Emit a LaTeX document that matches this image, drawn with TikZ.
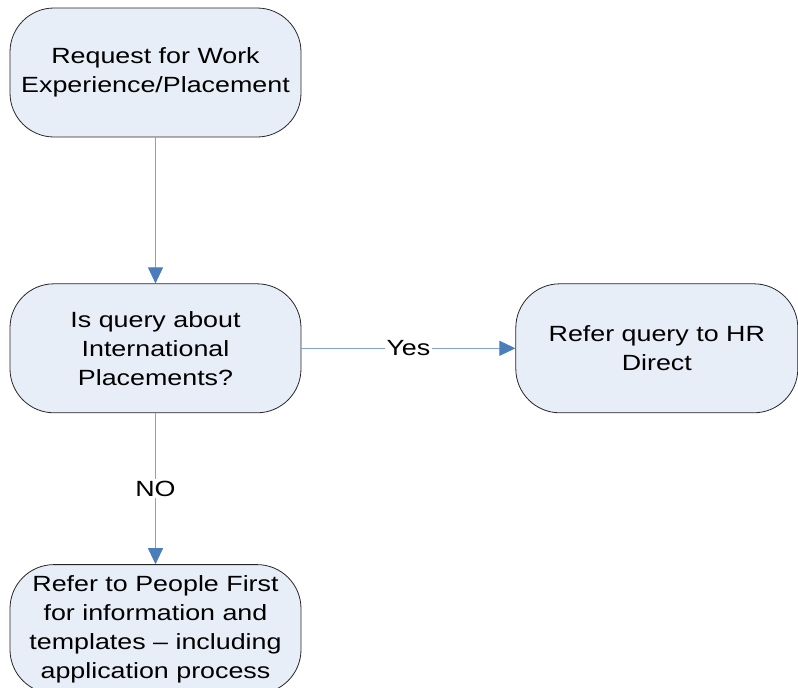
\documentclass[tikz,border=0pt]{standalone}
\usepackage{xcolor}
\usepackage{fontspec}
\setmainfont{Liberation Sans}[FakeStretch=1.22]
\usepackage{tikz}
\usetikzlibrary{arrows.meta, positioning}

\definecolor{boxfill}{HTML}{E8EEF7}
\definecolor{flowblue}{HTML}{4A7EBB}
\definecolor{flowline}{HTML}{7FA3D8}

\begin{document}
\begin{tikzpicture}[x=1pt, y=1pt,
			flowbox/.style={draw=black!85, fill=boxfill, line width=0.8pt,
				rounded corners=44pt, minimum width=291pt, minimum height=129pt,
				align=center, inner sep=0pt,
				font=\fontsize{22}{29}\selectfont},
			flowarrow/.style={draw=flowline, line width=1pt,
				-{Triangle[length=16pt, width=15pt, fill=flowblue, color=flowblue]}},
			flowlabel/.style={fill=white, inner sep=2pt,
				font=\fontsize{22}{29}\selectfont}]
			
			\useasboundingbox (0,0) rectangle (798,-688);
			
			\node[flowbox] (request) at (155.5,-72.5) {Request for Work\\Experience/Placement};
			\node[flowbox, below=146pt of request] (query) {Is query about\\International\\Placements?};
			\node[flowbox, right=214pt of query, minimum width=282pt] (hrdirect) {Refer query to HR\\Direct};
			\node[flowbox, below=151pt of query] (peoplefirst) {Refer to People First\\for information and\\templates -- including\\application process};
			
			\draw[flowarrow] (request) -- (query);
			\draw[flowarrow] (query) -- node[flowlabel] {Yes} (hrdirect);
			\draw[flowarrow] (query) -- node[flowlabel] {NO} (peoplefirst);
		\end{tikzpicture}
\end{document}
